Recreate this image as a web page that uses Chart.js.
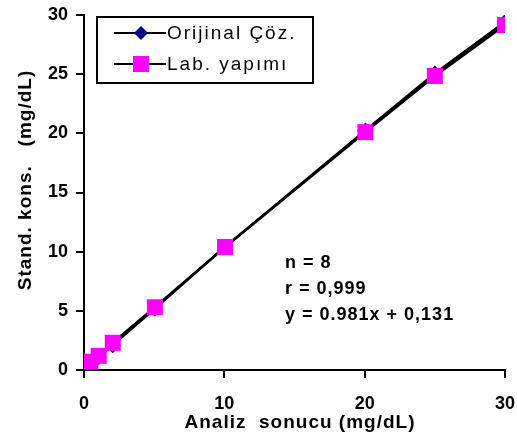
<!DOCTYPE html>
<html>
<head>
<meta charset="utf-8">
<script src="https://cdn.jsdelivr.net/npm/chart.js@4"></script>
<style>
  body { margin: 0; background: #fff; }
  #wrap { width: 517px; height: 437px; }
</style>
</head>
<body>
<div id="wrap"><canvas id="chart" width="517" height="437"></canvas></div>
<script>
var seriesNames = ["Orijinal Çöz.", "Lab. yapımı"];
var xValues = [0.45, 1.05, 2.05, 5.05, 10.05, 20.05, 25.0, 30.0];
var orijinalValues = [0.6, 1.1, 2.1, 5.2, 10.4, 20.25, 25.05, 29.4];
var labValues = [0.7, 1.2, 2.3, 5.3, 10.4, 20.1, 24.85, 29.15];
var xTicks = [0, 10, 20, 30];
var yTicks = [0, 5, 10, 15, 20, 25, 30];
var statLines = ["n = 8", "r = 0,999", "y = 0.981x + 0,131"];
var xTitle = "Analiz  sonucu (mg/dL)";
var yTitle = "Stand. kons.   (mg/dL)";

var FONT = "'Liberation Sans', Arial, sans-serif";

function toPoints(xs, ys) {
    return xs.map(function(x, i) { return { x: x, y: ys[i] }; });
}

function drawDiamond(ctx, x, y, r) {
    ctx.beginPath();
    ctx.moveTo(x, y - r);
    ctx.lineTo(x + r, y);
    ctx.lineTo(x, y + r);
    ctx.lineTo(x - r, y);
    ctx.closePath();
    ctx.fill();
}

var extrasPlugin = {
    id: "extras",
    afterDraw: function(chart) {
        var ctx = chart.ctx;
        var area = chart.chartArea;
        var xs = chart.scales.x, ys = chart.scales.y;
        ctx.save();
        // tick marks
        ctx.fillStyle = "#000";
        xTicks.forEach(function(v) {
            var px = Math.round(xs.getPixelForValue(v));
            ctx.fillRect(px - 1, area.bottom, 2, 8);
        });
        yTicks.forEach(function(v) {
            var py = Math.round(ys.getPixelForValue(v));
            ctx.fillRect(area.left - 8, py - 1, 8, 2);
        });
        // legend box
        ctx.strokeStyle = "#000";
        ctx.lineWidth = 2;
        ctx.strokeRect(97, 17, 216, 66);
        var rows = [33, 64];
        ctx.font = "19px " + FONT;
        ctx.letterSpacing = "2px";
        ctx.textBaseline = "middle";
        rows.forEach(function(ry, i) {
            ctx.beginPath();
            ctx.moveTo(114, ry);
            ctx.lineTo(166, ry);
            ctx.stroke();
            if (i === 0) {
                ctx.fillStyle = "#000080";
                drawDiamond(ctx, 141, ry, 7);
            } else {
                ctx.fillStyle = "#ff00ff";
                ctx.fillRect(133, ry - 8, 16, 16);
            }
            ctx.fillStyle = "#000";
            ctx.fillText(seriesNames[i], 167, ry + 1);
        });
        // stats text
        ctx.font = "bold 18px " + FONT;
        ctx.letterSpacing = "1px";
        statLines.forEach(function(t, i) {
            ctx.fillText(t, 285, 263 + i * 26);
        });
        // axis titles
        ctx.font = "bold 19px " + FONT;
        ctx.letterSpacing = "1px";
        ctx.textAlign = "center";
        ctx.fillText(xTitle, 300, 423);
        ctx.translate(26, 180);
        ctx.rotate(-Math.PI / 2);
        ctx.fillText(yTitle, 0, 0);
        ctx.restore();
    }
};

var tickFont = { family: FONT, size: 18, weight: "bold" };
var axisGrid = { drawOnChartArea: false, drawTicks: false };

new Chart(document.getElementById("chart"), {
    type: "scatter",
    data: {
        datasets: [{
            label: seriesNames[0],
            data: toPoints(xValues, orijinalValues),
            showLine: true,
            borderColor: "#000",
            borderWidth: 2.5,
            pointStyle: "rectRot",
            pointRadius: 8,
            pointBackgroundColor: "#000080",
            pointBorderColor: "#000080",
            pointBorderWidth: 0,
            order: 2
        }, {
            label: seriesNames[1],
            data: toPoints(xValues, labValues),
            showLine: true,
            borderColor: "#000",
            borderWidth: 2.5,
            pointStyle: "rect",
            pointRadius: 11.3,
            pointBackgroundColor: "#ff00ff",
            pointBorderColor: "#ff00ff",
            pointBorderWidth: 0,
            order: 1
        }]
    },
    options: {
        responsive: false,
        animation: false,
        layout: { padding: 0 },
        plugins: { legend: { display: false }, tooltip: { enabled: false } },
        scales: {
            x: {
                type: "linear",
                min: 0, max: 30,
                afterBuildTicks: function(scale) { scale.ticks = xTicks.map(function(v) { return { value: v }; }); },
                ticks: { color: "#000", font: tickFont, padding: 23, maxRotation: 0 },
                grid: axisGrid,
                border: { color: "#000", width: 2 },
                afterFit: function(scale) { scale.height = 67; scale.paddingLeft = 0; scale.paddingRight = 12; }
            },
            y: {
                type: "linear",
                min: 0, max: 30,
                afterBuildTicks: function(scale) { scale.ticks = yTicks.map(function(v) { return { value: v }; }); },
                ticks: { color: "#000", font: tickFont, padding: 16 },
                grid: axisGrid,
                border: { color: "#000", width: 2 },
                afterFit: function(scale) { scale.width = 84; scale.paddingTop = 15; scale.paddingBottom = 0; }
            }
        }
    },
    plugins: [extrasPlugin]
});
</script>
</body>
</html>
